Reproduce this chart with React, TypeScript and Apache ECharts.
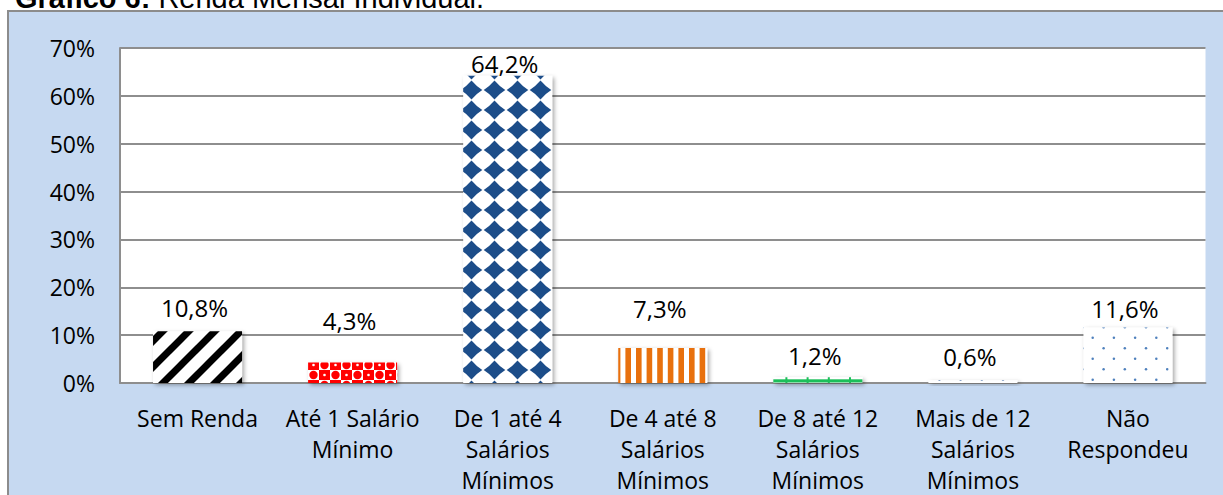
import React, { useEffect, useRef } from 'react';
import * as echarts from 'echarts';

const categories = [
  'Sem Renda',
  'Até 1 Salário\nMínimo',
  'De 1 até 4\nSalários\nMínimos',
  'De 4 até 8\nSalários\nMínimos',
  'De 8 até 12\nSalários\nMínimos',
  'Mais de 12\nSalários\nMínimos',
  'Não\nRespondeu',
];
const values = [10.8, 4.3, 64.2, 7.3, 1.2, 0.6, 11.6];
const yMin = 0;
const yMax = 70;
const yStep = 10;

// layout (px)
const W = 1223;
const H = 495;
const GRID_LEFT = 120;
const GRID_RIGHT = 17.5;
const GRID_TOP = 48;
const GRID_BOTTOM = 111;
const BAR_W = 89;
const labelNudge = [-12, -30.2, -0.6, -27.8, -10, -11.2, -7.1];

const FONT = '"Open Sans", "Noto Sans", sans-serif';

function tile(w: number, h: number, draw: (ctx: CanvasRenderingContext2D) => void) {
  const c = document.createElement('canvas');
  c.width = w;
  c.height = h;
  const ctx = c.getContext('2d') as CanvasRenderingContext2D;
  ctx.fillStyle = '#ffffff';
  ctx.fillRect(0, 0, w, h);
  draw(ctx);
  return c;
}

function pat(c: HTMLCanvasElement, x = 0, y = 0) {
  return { image: c, repeat: 'repeat', imageWidth: c.width, imageHeight: c.height, x, y } as any;
}

function buildPatterns() {
  const catW = (W - GRID_LEFT - GRID_RIGHT) / categories.length;
  const plotH = H - GRID_TOP - GRID_BOTTOM;
  const barLeft = (i: number) => GRID_LEFT + (i + 0.5) * catW - BAR_W / 2;
  const barTop = (i: number) => GRID_TOP + plotH * (1 - (values[i] - yMin) / (yMax - yMin));

  const stripes = tile(26, 26, (ctx) => {
    ctx.strokeStyle = '#000000';
    ctx.lineWidth = 7;
    for (const k of [-26, 0, 26]) {
      ctx.beginPath();
      ctx.moveTo(k - 6, 32);
      ctx.lineTo(k + 32, -6);
      ctx.stroke();
    }
  });

  const red = tile(22, 20, (ctx) => {
    ctx.fillStyle = '#ff0000';
    ctx.fillRect(0, 0, 11, 10);
    ctx.fillRect(11, 10, 11, 10);
    ctx.beginPath();
    ctx.arc(16.5, 5, 4.2, 0, Math.PI * 2);
    ctx.arc(5.5, 15, 4.2, 0, Math.PI * 2);
    ctx.fill();
    ctx.fillStyle = '#ffffff';
    ctx.beginPath();
    ctx.arc(5.5, 5, 1.3, 0, Math.PI * 2);
    ctx.fill();
    ctx.beginPath();
    ctx.arc(16.5, 15, 1.3, 0, Math.PI * 2);
    ctx.fill();
  });

  const diamonds = tile(23, 20, (ctx) => {
    ctx.fillStyle = '#1f4e89';
    const cx = 11.5, cy = 10, rx = 10.8, ry = 9.4, k = 0.42;
    ctx.beginPath();
    ctx.moveTo(cx, cy - ry);
    ctx.quadraticCurveTo(cx + rx * k, cy - ry * k, cx + rx, cy);
    ctx.quadraticCurveTo(cx + rx * k, cy + ry * k, cx, cy + ry);
    ctx.quadraticCurveTo(cx - rx * k, cy + ry * k, cx - rx, cy);
    ctx.quadraticCurveTo(cx - rx * k, cy - ry * k, cx, cy - ry);
    ctx.fill();
  });

  const orange = tile(53, 4, (ctx) => {
    ctx.fillStyle = '#e8700c';
    for (let i = 0; i < 5; i++) ctx.fillRect(i * 10.6, 0, 5.6, 4);
  });

  const green = tile(106, 21, (ctx) => {
    ctx.fillStyle = '#1cbf5a';
    for (let i = 0; i < 5; i++) ctx.fillRect(i * 21.2 + 1, 0, 2, 21);
    ctx.fillRect(0, 1.3, 106, 3.2);
  });

  const dotsSmall = tile(106, 21, (ctx) => {
    ctx.fillStyle = '#5b7fb5';
    for (let i = 0; i < 5; i++) {
      ctx.beginPath();
      ctx.arc(6.6 + i * 21.2, 1.5, 1.4, 0, Math.PI * 2);
      ctx.fill();
    }
  });

  const dots = tile(106, 21, (ctx) => {
    ctx.fillStyle = '#4f81bd';
    for (let i = 0; i < 5; i++) {
      ctx.beginPath();
      ctx.arc(11.5 + i * 21.2, 1.7, 1.25, 0, Math.PI * 2);
      ctx.fill();
      ctx.beginPath();
      ctx.arc(1.2 + i * 21.2, 12.2, 1.25, 0, Math.PI * 2);
      ctx.fill();
    }
  });

  return [
    pat(stripes, barLeft(0), barTop(0)),
    pat(red, barLeft(1), barTop(1)),
    pat(diamonds, barLeft(2) - 7, barTop(2) - 8),
    pat(orange, barLeft(3), 0),
    pat(green, barLeft(4), barTop(4)),
    pat(dotsSmall, barLeft(5), barTop(5)),
    pat(dots, barLeft(6), barTop(6)),
  ];
}

export default function App() {
  const ref = useRef<HTMLDivElement>(null);

  useEffect(() => {
    if (!ref.current) return;
    const chart = echarts.init(ref.current, undefined, { renderer: 'svg' });
    const patterns = buildPatterns();

    chart.setOption({
      animation: false,
      backgroundColor: '#ffffff',
      graphic: [
        {
          type: 'rect',
          z: -10,
          silent: true,
          shape: { x: 8, y: 11, width: 1400, height: 700 },
          style: { fill: '#c6d9f1', stroke: '#8c8c8c', lineWidth: 2 },
        },
        {
          type: 'text',
          z: 10,
          x: 15,
          y: -2,
          silent: true,
          style: {
            text: '{b|Gráfico 6: }{r|Renda Mensal Individual.}',
            verticalAlign: 'middle',
            align: 'left',
            rich: {
              b: { fontFamily: '"Liberation Sans", Arial, sans-serif', fontWeight: 'bold', fontSize: 29, fill: '#000' },
              r: { fontFamily: '"Liberation Sans", Arial, sans-serif', fontWeight: 'normal', fontSize: 29, fill: '#000' },
            },
          },
        },
      ],
      grid: {
        left: GRID_LEFT,
        right: GRID_RIGHT,
        top: GRID_TOP,
        bottom: GRID_BOTTOM,
        show: true,
        backgroundColor: '#ffffff',
        borderWidth: 0,
      },
      xAxis: {
        type: 'category',
        data: categories,
        axisTick: { show: false },
        axisLine: { show: true, lineStyle: { color: '#8e8e8e', width: 2 } },
        axisLabel: {
          interval: 0,
          color: '#000',
          fontFamily: FONT,
          fontSize: 23,
          lineHeight: 31,
          margin: 19,
        },
      },
      yAxis: {
        type: 'value',
        min: yMin,
        max: yMax,
        interval: yStep,
        axisLine: { show: true, lineStyle: { color: '#8e8e8e', width: 2 } },
        axisTick: { show: false },
        splitLine: { show: true, lineStyle: { color: '#8e8e8e', width: 2 } },
        axisLabel: {
          color: '#000',
          fontFamily: FONT,
          fontSize: 23,
          margin: 25,
          formatter: (v: number) => `${v}%`,
        },
      },
      series: [
        {
          type: 'bar',
          barWidth: BAR_W,
          data: values.map((v, i) => ({
            value: v,
            itemStyle: { color: patterns[i] },
            label: { offset: [-3, labelNudge[i]] },
          })),
          itemStyle: {
            shadowBlur: 4,
            shadowColor: 'rgba(0,0,0,0.35)',
            shadowOffsetX: 2,
            shadowOffsetY: 2,
          },
          label: {
            show: true,
            position: 'top',
            distance: 0,
            color: '#000',
            fontFamily: FONT,
            fontSize: 24,
            lineHeight: 24,
            formatter: (p: any) => `${Number(p.value).toFixed(1).replace('.', ',')}%`,
          },
        },
      ],
    });

    return () => chart.dispose();
  }, []);

  return (
    <div
      ref={ref}
      style={{ position: 'fixed', left: 0, top: 0, width: W, height: H }}
    />
  );
}
